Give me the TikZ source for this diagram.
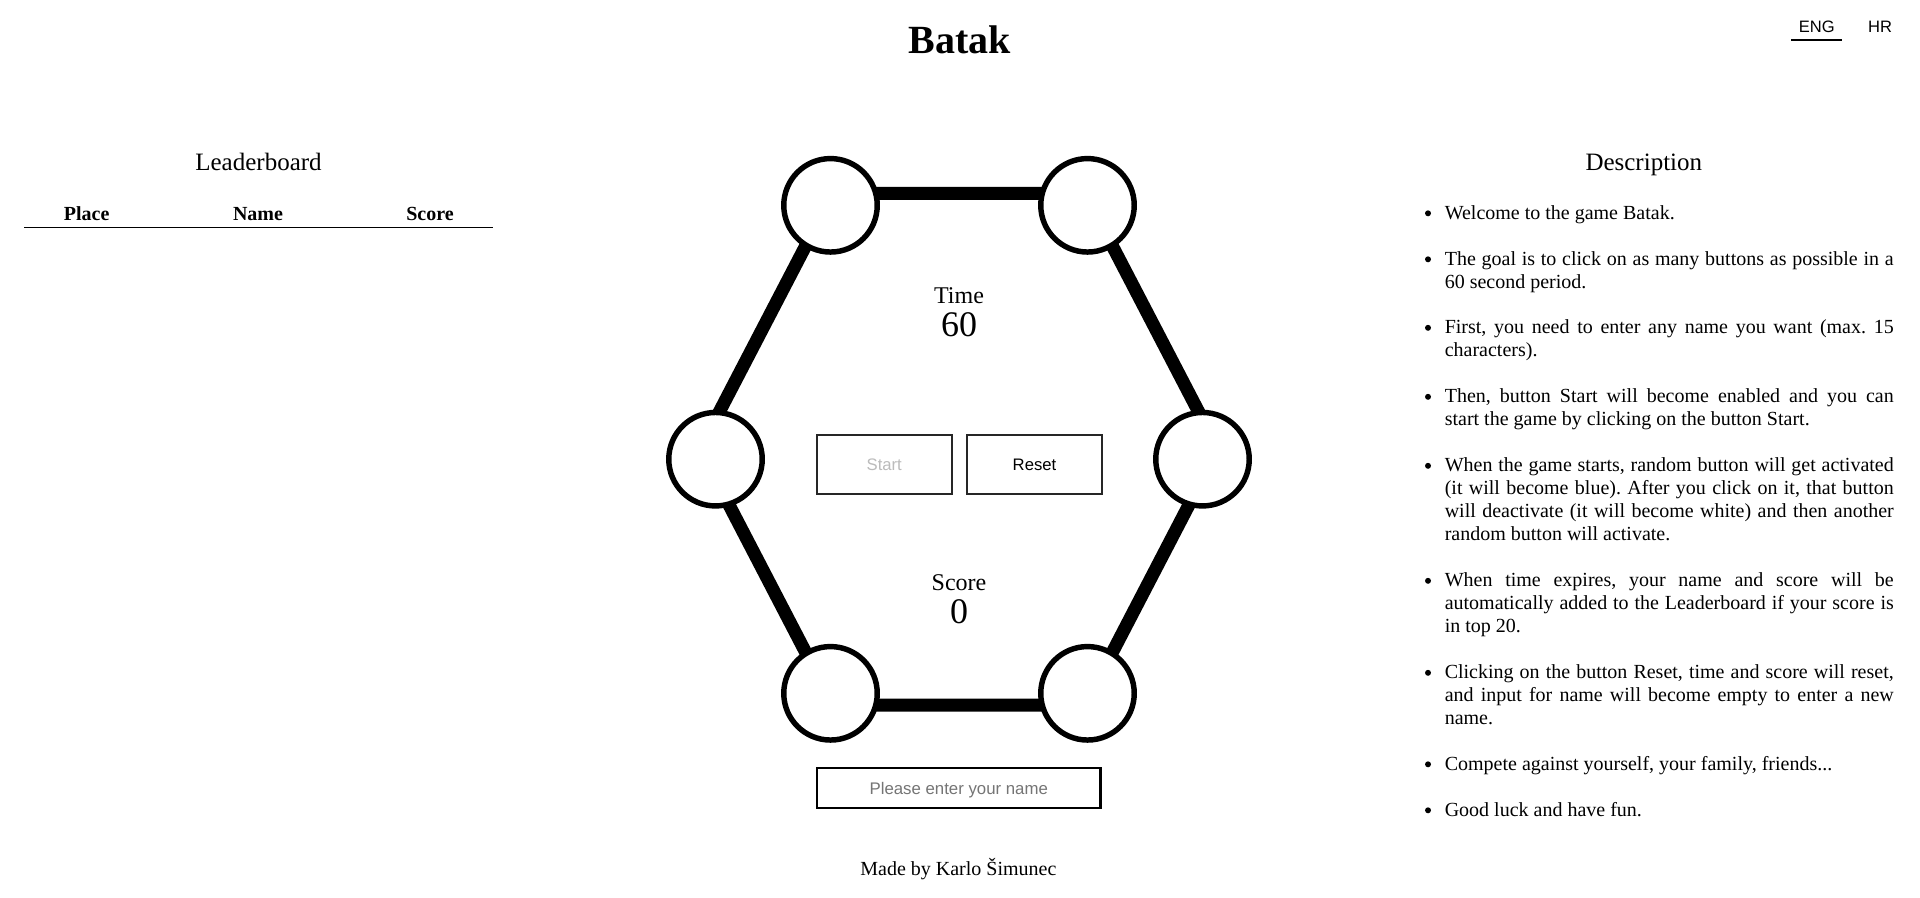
\documentclass[tikz,border=0pt]{standalone}
\usepackage{fontspec}
\setmainfont{Liberation Serif}
\newfontfamily\sansf{Liberation Sans}
\frenchspacing
\definecolor{btnborder}{HTML}{262626}
\definecolor{disabledtxt}{HTML}{BBBBBB}
\definecolor{placeholder}{HTML}{757575}
\newcommand\jline[3]{\node[body] (#1) at (1444.5,#2) {\makebox[336.75pt][s]{#3}};}
\newcommand\pline[3]{\node[body] (#1) at (1444.5,#2) {#3};}
\newcommand\bul[2]{\node[dot] (#1) at (1428,#2-5.7) {};}
\begin{document}
\begin{tikzpicture}[x=0.75pt,y=-0.75pt,
  body/.style={font=\fontsize{15pt}{17pt}\selectfont\frenchspacing, inner sep=0pt, anchor=base west},
  title/.style={font=\fontsize{30pt}{32pt}\selectfont\bfseries, inner sep=0pt, anchor=base},
  heading/.style={font=\fontsize{18.75pt}{20pt}\selectfont, inner sep=0pt, anchor=base},
  th/.style={font=\fontsize{15pt}{17pt}\selectfont\bfseries, inner sep=0pt, anchor=base},
  lang/.style={font=\sansf\fontsize{12.4pt}{14pt}\selectfont, inner sep=0pt, anchor=base},
  counterlabel/.style={font=\fontsize{18pt}{20pt}\selectfont, inner sep=0pt, anchor=base},
  bignum/.style={font=\fontsize{27pt}{29pt}\selectfont, inner sep=0pt, anchor=base},
  btn/.style={draw=btnborder, line width=1.5pt, fill=white, rectangle, inner sep=0pt,
     minimum width=100.9pt, minimum height=44.25pt, text height=9pt, text depth=0pt,
     font=\sansf\fontsize{12.5pt}{14pt}\selectfont},
  inputbox/.style={draw=black, line width=1.6pt, fill=white, rectangle, inner sep=0pt,
     minimum width=212.6pt, minimum height=30pt, text height=9pt, text depth=0pt,
     font=\sansf\fontsize{12.6pt}{14pt}\selectfont, text=placeholder},
  hole/.style={circle, draw=black, fill=white, line width=4.1pt, minimum size=70.1pt, inner sep=0pt},
  rail/.style={draw=black, line width=9.75pt, line join=round},
  dot/.style={circle, fill=black, inner sep=0pt, minimum size=4.5pt}
]
\fill[white] (0,0) rectangle (1920,897);
\useasboundingbox (0,0) rectangle (1920,897);

% header
\node[title] (ttl) at (959.5,53.3) {Batak};
\node[lang] (eng) at (1816.7,32.3) {ENG};
\node[lang] (hr) at (1880,32.3) {HR};
\coordinate (engL) at (1791,40);
\coordinate (engR) at (1842,40);
\draw[line width=1.6pt] (engL) -- (engR);

% leaderboard
\node[heading] (lbh) at (258.5,170) {Leaderboard};
\node[th] (thplace) at (86.7,220) {Place};
\node[th] (thname) at (258,220) {Name};
\node[th] (thscore) at (430,220) {Score};
\coordinate (tlineL) at (24,227.3);
\coordinate (tlineR) at (492.7,227.3);
\draw[line width=1.1pt] (tlineL) -- (tlineR);

% hexagon rails
\coordinate (v1) at (833,193.3);
\coordinate (v2) at (1085,193.3);
\coordinate (v3) at (1218,449);
\coordinate (v4) at (1085,705);
\coordinate (v5) at (833,705);
\coordinate (v6) at (700,449);
\draw[rail] (v1) -- (v2) -- (v3) -- (v4) -- (v5) -- (v6) -- cycle;

% buttons of the game
\node[hole] (ctl) at (830.5,205.3) {};
\node[hole] (ctr) at (1087.5,205.3) {};
\node[hole] (cl) at (715.5,459.2) {};
\node[hole] (cr) at (1202.5,459.2) {};
\node[hole] (cbl) at (830.5,693.3) {};
\node[hole] (cbr) at (1087.5,693.3) {};

% counters
\node[counterlabel] (timel) at (959,303.3) {Time};
\node[bignum] (timev) at (959,336.7) {60};
\node[counterlabel] (scorel) at (959,590.7) {Score};
\node[bignum] (scorev) at (959,623.3) {0};

% controls
\node[btn, text=disabledtxt] (start) at (884.25,464.5) {Start};
\node[btn] (reset) at (1034.5,464.5) {Reset};
\node[inputbox] (nameinput) at (958.75,788.3) {Please enter your name};

% footer
\node[body, anchor=base] (made) at (958.4,875) {Made by Karlo Šimunec};

% description
\node[heading] (dh) at (1643.8,170) {Description};
\bul{b1}{219}
\pline{d1}{219}{Welcome to the game Batak.}
\bul{b2}{265}
\jline{d2}{265}{The goal is to click on as many buttons as possible in a}
\pline{d3}{288}{60 second period.}
\bul{b3}{333.5}
\jline{d4}{333.5}{First, you need to enter any name you want (max. 15}
\pline{d5}{356.5}{characters).}
\bul{b4}{402.5}
\jline{d6}{402.5}{Then, button Start will become enabled and you can}
\pline{d7}{425.5}{start the game by clicking on the button Start.}
\bul{b5}{471.5}
\jline{d8}{471.5}{When the game starts, random button will get activated}
\jline{d9}{494.5}{(it will become blue). After you click on it, that button}
\jline{d10}{517.5}{will deactivate (it will become white) and then another}
\pline{d11}{540.5}{random button will activate.}
\bul{b6}{586.5}
\jline{d12}{586.5}{When time expires, your name and score will be}
\jline{d13}{609.5}{automatically added to the Leaderboard if your score is}
\pline{d14}{632.5}{in top 20.}
\bul{b7}{678.5}
\jline{d15}{678.5}{Clicking on the button Reset, time and score will reset,}
\jline{d16}{701.5}{and input for name will become empty to enter a new}
\pline{d17}{724.5}{name.}
\bul{b8}{770}
\pline{d18}{770}{Compete against yourself, your family, friends...}
\bul{b9}{816}
\pline{d19}{816}{Good luck and have fun.}
\end{tikzpicture}
\end{document}
